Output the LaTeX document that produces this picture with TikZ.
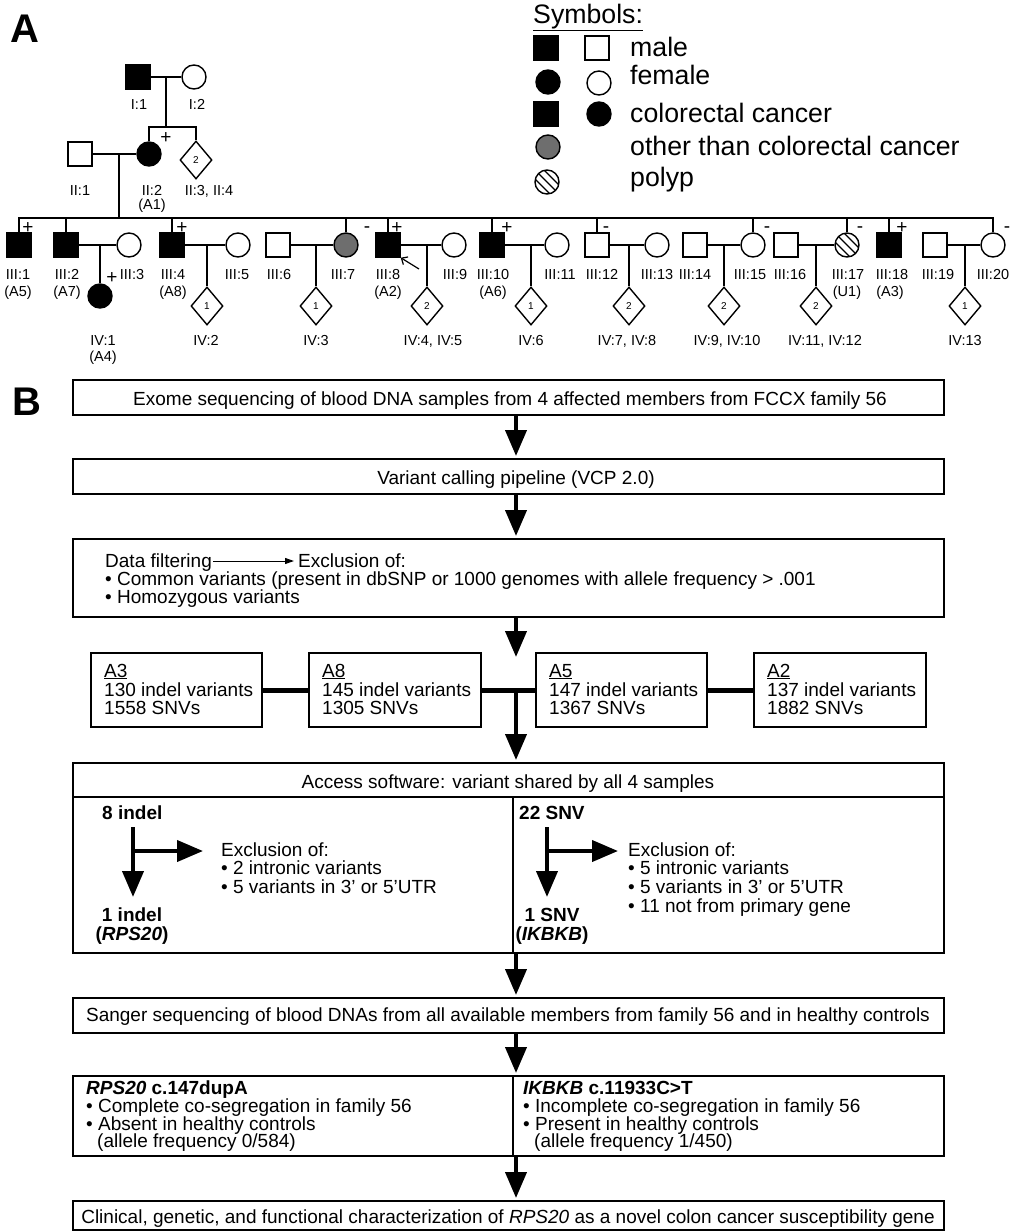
\documentclass[tikz,border=0pt]{standalone}
\usepackage{fontspec}
\setmainfont{Liberation Sans}
\usetikzlibrary{arrows.meta,shapes.geometric,calc}
\definecolor{pedgray}{RGB}{110,110,110}
\newcommand{\pedfont}{\fontsize{14.5}{16}\selectfont}
\newcommand{\pedsmall}{\fontsize{10}{10}\selectfont}
\newcommand{\signfont}{\fontsize{19}{19}\selectfont}
\newcommand{\legfont}{\fontsize{26.7}{28}\selectfont}
\newcommand{\flowfont}{\fontsize{19}{19}\selectfont}
\newcommand{\panelfont}{\fontsize{40}{40}\selectfont\bfseries}
\begin{document}
\begin{tikzpicture}[x=1pt,y=-1pt,
  pline/.style={line width=1.4pt},
  osq/.style={draw, line width=1.4pt, rectangle, minimum size=24pt, inner sep=0pt, fill=white},
  fsq/.style={osq, fill=black},
  ocirc/.style={draw, line width=1.4pt, circle, minimum size=24pt, inner sep=0pt, fill=white},
  fcirc/.style={ocirc, fill=black},
  gcirc/.style={ocirc, fill=pedgray},
  hcirc/.style={ocirc, path picture={\foreach \k in {-2,...,2}{\draw[line width=1.3pt] ([xshift={\k*9pt-20pt},yshift=20pt]path picture bounding box.center) -- ++(40pt,-40pt);}}},
  dia/.style={draw, line width=1.4pt, diamond, minimum width=32pt, minimum height=38pt, inner sep=0pt, font=\pedsmall},
  plab/.style={anchor=base, font=\pedfont, inner sep=0pt},
  sgn/.style={font=\signfont, inner sep=0pt},
  leg/.style={anchor=base west, font=\legfont, inner sep=0pt},
  fbox/.style={draw, line width=2pt, rectangle, inner sep=0pt},
  ft/.style={anchor=base west, font=\flowfont, inner sep=0pt},
  fc/.style={anchor=base, font=\flowfont, inner sep=0pt},
  bigarr/.style={line width=4pt, -{Triangle[width=21pt,length=26pt]}},
  conn/.style={line width=5pt},
  smallarr/.style={line width=1pt, -{Triangle[width=6pt,length=9pt]}}
]
\useasboundingbox (0,0) rectangle (1012,1232);

% panel letters
\node[anchor=base west, font=\panelfont, inner sep=0pt] (pA) at (10,42) {A};
\node[anchor=base west, font=\panelfont, inner sep=0pt] (pB) at (12,415) {B};

% legend
\node[leg] (lsym) at (533,23) {\underline{Symbols:}};
\node[fsq] (Lm1) at (546,48) {};
\node[osq] (Lm2) at (597,48) {};
\node[fcirc] (Lf1) at (548,82) {};
\node[ocirc] (Lf2) at (599,83) {};
\node[fsq] (Lc1) at (546,114) {};
\node[fcirc] (Lc2) at (599,114) {};
\node[gcirc] (Lo) at (548,147) {};
\node[hcirc] (Lp) at (547,182) {};
\node[leg] (tm) at (630,56) {male};
\node[leg] (tf) at (630,84) {female};
\node[leg] (tc) at (630,122) {colorectal cancer};
\node[leg] (to) at (630,155) {other than colorectal cancer};
\node[leg] (tp) at (630,186) {polyp};

% pedigree generation I and II
\node[fsq] (I1) at (138,77) {};
\node[ocirc] (I2) at (194,77) {};
\node[osq] (II1) at (80,154) {};
\node[fcirc] (II2) at (149,154) {};
\node[dia] (II34) at (196,160) {2};

% generation III
\foreach \n/\x/\s in {III1/19/fsq, III2/66/fsq, III3/129/ocirc, III4/172/fsq, III5/238/ocirc,
  III6/278/osq, III7/346/gcirc, III8/388/fsq, III9/454/ocirc, III10/492/fsq, III11/557/ocirc,
  III12/597/osq, III13/657/ocirc, III14/695/osq, III15/753/ocirc, III16/786/osq, III17/847/hcirc,
  III18/889/fsq, III19/935/osq, III20/993/ocirc}
  \node[\s] (\n) at (\x,245) {};

% generation IV
\node[fcirc] (IV1) at (100,296) {};
\foreach \n/\x/\k in {IV2/207/1, IV3/316/1, IV45/427/2, IV6/531/1, IV78/629/2, IV910/724/2, IV1112/816/2, IV13/965/1}
  \node[dia] (\n) at (\x,306) {\k};

% lines gen I-II
\coordinate (dI) at (166,77);
\coordinate (sI) at (0,127);
\draw[pline] (I1) -- (I2);
\draw[pline] (dI) -- (dI |- sI);
\draw[pline] (II2.north) -- (II2.north |- sI) -- (II34.north |- sI) -- (II34.north);
\draw[pline] (II1) -- (II2);
\coordinate (dII) at (119,154);
\coordinate (sib) at (0,218);
\draw[pline] (dII) -- (dII |- sib);

% sibship line gen III
\draw[pline] (III1.north) -- (III1.north |- sib) -- (III20.north |- sib) -- (III20.north);
\foreach \n in {III2,III4,III7,III8,III10,III12,III15,III17,III18}
  \draw[pline] (\n.north) -- (\n.north |- sib);

% marriages
\foreach \a/\b in {III2/III3, III4/III5, III6/III7, III8/III9, III10/III11, III12/III13, III14/III15, III16/III17, III19/III20}
  \draw[pline] (\a) -- (\b);

% descents to gen IV
\foreach \c/\p in {IV1/III2, IV2/III4, IV3/III6, IV45/III8, IV6/III10, IV78/III12, IV910/III14, IV1112/III16, IV13/III19}
  \draw[pline] (\c.north |- \p) -- (\c.north);

% proband arrow
\coordinate (parr) at (419,269);
\draw[line width=1.2pt, -{Straight Barb[length=5pt,width=9pt]}] (parr) -- (III8.south east);

% signs
\node[sgn] (sII2) at (166,138) {+};
\node[sgn] (sIII1) at (28,228) {+};
\node[sgn] (sIII4) at (182,228) {+};
\node[sgn] (sIII8) at (397,228) {+};
\node[sgn] (sIII10) at (507,228) {+};
\node[sgn] (sIII18) at (902,228) {+};
\node[sgn] (sIV1) at (112,278) {+};
\node[sgn] (sIII7) at (367,230) {-};
\node[sgn] (sIII12) at (606,230) {-};
\node[sgn] (sIII15) at (767,230) {-};
\node[sgn] (sIII17) at (860,230) {-};
\node[sgn] (sIII20) at (1007,230) {-};

% labels
\node[plab] (lI1) at (139,109) {I:1};
\node[plab] (lI2) at (197,109) {I:2};
\node[plab] (lII1) at (80,195) {II:1};
\node[plab] (lII2) at (152,195) {II:2};
\node[plab] (lA1) at (152,209) {(A1)};
\node[plab] (lII34) at (209,195) {II:3, II:4};
\foreach \n/\x in {1/18, 2/67, 3/132, 4/173, 5/237, 6/279, 7/343, 8/388, 9/455, 10/493, 11/560,
  12/602, 13/657, 14/695, 15/750, 16/790, 17/848, 18/892, 19/938, 20/993}
  \node[plab] (lIII\n) at (\x,279) {III:\n};
\foreach \n/\x/\t in {a/18/A5, b/67/A7, c/173/A8, d/388/A2, e/493/A6, f/847/U1, g/890/A3}
  \node[plab] (lx\n) at (\x,296) {(\t)};
\foreach \n/\x/\t in {a/103/IV:1, b/206/IV:2, c/316/IV:3, d/433/{IV:4, IV:5}, e/531/IV:6,
  f/627/{IV:7, IV:8}, g/727/{IV:9, IV:10}, h/825/{IV:11, IV:12}, i/965/IV:13}
  \node[plab] (lIV\n) at (\x,345) {\t};
\node[plab] (lA4) at (103,361) {(A4)};

% ---------------- flowchart ----------------
\coordinate (ax) at (516,0);
\node[fbox, minimum width=871pt, minimum height=35pt] (b1) at (508.5,397.5) {};
\node[fc] (t1) at (510,405) {Exome sequencing of blood DNA samples from 4 affected members from FCCX family 56};
\node[fbox, minimum width=871pt, minimum height=35pt] (b2) at (508.5,476.5) {};
\node[fc] (t2) at (516,484) {Variant calling pipeline (VCP 2.0)};
\node[fbox, minimum width=871pt, minimum height=78pt] (b3) at (508.5,578) {};
\node[ft] (df) at (105,567) {Data filtering};
\node[ft] (ex0) at (298,567) {Exclusion of:};
\draw[smallarr] ([xshift=1pt,yshift=6pt]df.base east) -- ([xshift=-4pt,yshift=6pt]ex0.base west);
\node[ft] (t3b) at (105,585) {• Common variants (present in dbSNP or 1000 genomes with allele frequency > .001};
\node[ft] (t3c) at (105,603) {• Homozygous variants};

\draw[bigarr] (ax |- b1.south) -- ([yshift=2pt]ax |- b2.north);
\draw[bigarr] (ax |- b2.south) -- ([yshift=2pt]ax |- b3.north);

% sample boxes
\node[fbox, minimum width=171pt, minimum height=74pt] (bA3) at (176.5,690) {};
\node[fbox, minimum width=172pt, minimum height=74pt] (bA8) at (395,690) {};
\node[fbox, minimum width=171pt, minimum height=74pt] (bA5) at (621.5,690) {};
\node[fbox, minimum width=172pt, minimum height=74pt] (bA2) at (840,690) {};
\foreach \n/\x/\a/\b/\c in {A3/104/A3/130/1558, A8/322/A8/145/1305, A5/549/A5/147/1367, A2/767/A2/137/1882}{
  \node[ft] (h\n) at (\x,677) {\underline{\a}};
  \node[ft] (i\n) at (\x,696) {\b\ indel variants};
  \node[ft] (s\n) at (\x,714) {\c\ SNVs};
}
\draw[conn] (bA3.east) -- (bA8.west);
\draw[conn] (bA8.east) -- (bA5.west);
\draw[conn] (bA5.east) -- (bA2.west);
\coordinate (tip3) at (516,657);
\draw[bigarr] (ax |- b3.south) -- (tip3);

% access software box
\node[fbox, minimum width=871pt, minimum height=190pt] (b5) at (508.5,858) {};
\coordinate (jn) at (516,690);
\draw[bigarr] (jn) -- ([yshift=2pt]ax |- b5.north);
\coordinate (h5) at (0,797);
\coordinate (sp) at (513,0);
\draw[line width=2pt] (b5.west |- h5) -- (b5.east |- h5);
\draw[line width=2pt] (sp |- h5) -- (sp |- b5.south);
\node[fc] (t5) at (508,788) {Access software: variant shared by all 4 samples};

\node[ft] (i8) at (102,819) {\textbf{8 indel}};
\coordinate (la) at (133,827);
\coordinate (lb) at (133,897);
\coordinate (lc) at (133,851);
\coordinate (ld) at (203,851);
\draw[bigarr] (la) -- (lb);
\draw[bigarr] (lc) -- (ld);
\node[ft] (exL) at (221,856) {Exclusion of:};
\node[ft] (exL1) at (221,874) {• 2 intronic variants};
\node[ft] (exL2) at (221,893) {• 5 variants in 3’ or 5’UTR};
\node[fc] (i1) at (132,921) {\textbf{1 indel}};
\node[fc] (i1g) at (132,940) {\textbf{(\textit{RPS20})}};

\node[ft] (s22) at (519,819) {\textbf{22 SNV}};
\coordinate (ra) at (547,827);
\coordinate (rb) at (547,897);
\coordinate (rc) at (547,851);
\coordinate (rd) at (618,851);
\draw[bigarr] (ra) -- (rb);
\draw[bigarr] (rc) -- (rd);
\node[ft] (exR) at (628,856) {Exclusion of:};
\node[ft] (exR1) at (628,874) {• 5 intronic variants};
\node[ft] (exR2) at (628,893) {• 5 variants in 3’ or 5’UTR};
\node[ft] (exR3) at (628,912) {• 11 not from primary gene};
\node[fc] (s1) at (552,921) {\textbf{1 SNV}};
\node[fc] (s1g) at (552,940) {\textbf{(\textit{IKBKB})}};

% Sanger box
\node[fbox, minimum width=871pt, minimum height=35pt] (b6) at (508.5,1015.5) {};
\node[fc] (t6) at (508,1021) {Sanger sequencing of blood DNAs from all available members from family 56 and in healthy controls};
\draw[bigarr] (ax |- b5.south) -- ([yshift=2pt]ax |- b6.north);

% results box
\node[fbox, minimum width=871pt, minimum height=80pt] (b7) at (508.5,1116) {};
\draw[line width=2pt] (sp |- b7.north) -- (sp |- b7.south);
\draw[bigarr] (ax |- b6.south) -- ([yshift=2pt]ax |- b7.north);
\node[ft] (r1) at (86,1094) {\textbf{\textit{RPS20} c.147dupA}};
\node[ft] (r2) at (86,1112) {• Complete co-segregation in family 56};
\node[ft] (r3) at (86,1130) {• Absent in healthy controls};
\node[ft] (r4) at (97,1147) {(allele frequency 0/584)};
\node[ft] (q1) at (523,1094) {\textbf{\textit{IKBKB} c.11933C>T}};
\node[ft] (q2) at (523,1112) {• Incomplete co-segregation in family 56};
\node[ft] (q3) at (523,1130) {• Present in healthy controls};
\node[ft] (q4) at (534,1147) {(allele frequency 1/450)};

% final box
\node[fbox, minimum width=871pt, minimum height=29pt] (b8) at (508.5,1215.5) {};
\draw[bigarr] (ax |- b7.south) -- ([yshift=2pt]ax |- b8.north);
\node[fc] (t8) at (508,1223) {Clinical, genetic, and functional characterization of \textit{RPS20} as a novel colon cancer susceptibility gene};
\end{tikzpicture}
\end{document}
